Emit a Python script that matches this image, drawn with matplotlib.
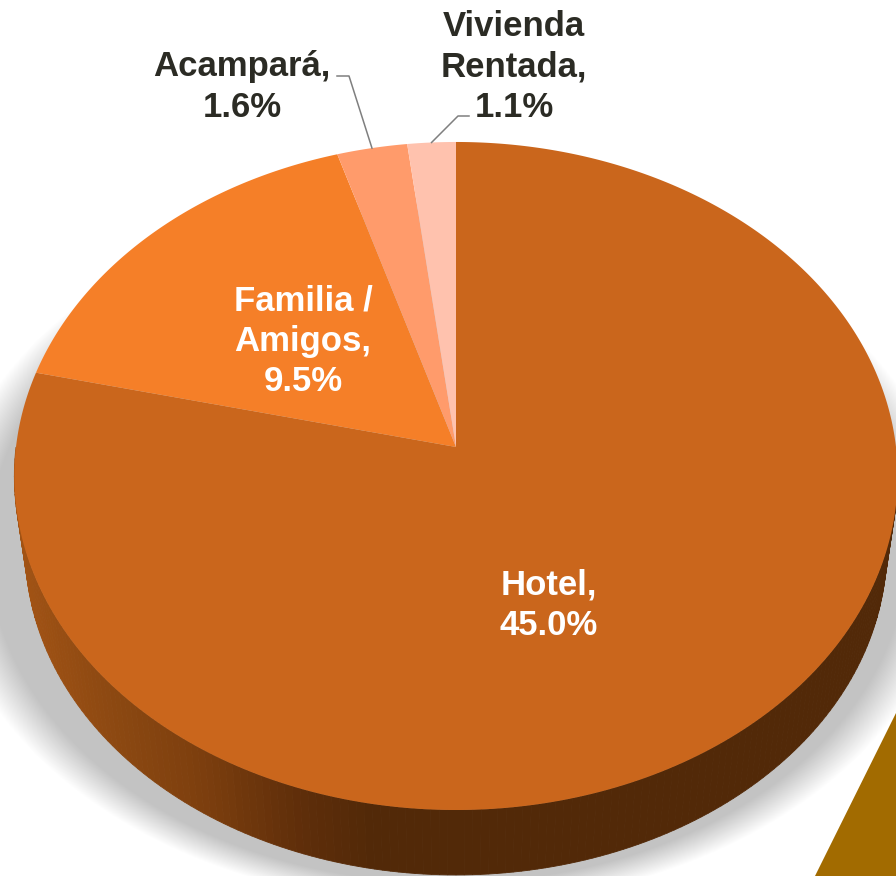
import numpy as np
import matplotlib
matplotlib.use("Agg")
import matplotlib.pyplot as plt

categories = ["Hotel", "Familia /\nAmigos", "Acampará", "Vivienda\nRentada"]
values = [45.0, 9.5, 1.6, 1.1]
colors = ["#ca661c", "#f57f28", "#ff9b6b", "#ffc2ae"]
text_colors = ["white", "white", "#2b2b24", "#2b2b24"]
label_pos = [(549, 605), (303, 341), (242, 87), (514, 67)]
# elbow of the leader lines, only the two small slices have one
leader_pts = [None, None, [(337, 76), (349, 76)], [(469, 116), (458, 116)]]

side_x = [0, 30, 100, 200, 300, 370, 896]
side_rgb = ["#a55515", "#a05214", "#8f4a12", "#7d3f0e", "#5f2e0a", "#522908", "#522908"]

W, H = 896, 876
CX, CY = 456, 447
K = 0.0868  # perspective of the tilted disc


def project(t, scale=1.0, cy=CY):
    # t is clockwise from 12 o'clock
    x, y = np.sin(t), np.cos(t)
    d = 1 + K * y
    return CX + scale * 440 * x / d, cy - scale * 331.5 * y / d


def hex_rgb(c):
    return np.array(matplotlib.colors.to_rgb(c))


fig = plt.figure(figsize=(W / 100, H / 100), dpi=100)
ax = fig.add_axes([0, 0, 1, 1])
ax.set_xlim(0, W)
ax.set_ylim(H, 0)
ax.axis("off")

# soft shadow, stacked translucent ellipses
tt = np.linspace(0, 2 * np.pi, 361)
n = 60
for i in range(n):
    s = 1 - i / (n - 1)
    rx = 460 + 45 * s
    ry = 335 + 23 * s
    ax.fill(448 + rx * np.cos(tt), 548 + ry * np.sin(tt), color="black", lw=0,
            alpha=1 - (1 - 0.22) ** (1 / n), zorder=1)

# gold corner of the next shape on the slide
ax.fill([896, 815, 896], [713, 876, 876], color="#a26b00", lw=0, zorder=2)

# side wall, only the front part shows
strips = np.radians(np.arange(90, 271))
rgb = np.array([hex_rgb(c) for c in side_rgb])
for a, b in zip(strips[:-1], strips[1:]):
    x0, y0 = project(np.array([a, b]))
    x1, y1 = project(np.array([b, a]), 0.975, 521)
    xm = (x0.mean() + x1.mean()) / 2
    col = [np.interp(xm, side_x, rgb[:, j]) for j in range(3)]
    ax.fill(np.r_[x0, x1], np.r_[y0, y1], color=col, lw=0.6, zorder=3)

# top face
fracs = np.array(values) / sum(values)
edges = np.r_[0, np.cumsum(fracs)] * 2 * np.pi
for a, b, c in zip(edges[:-1], edges[1:], colors):
    t = np.linspace(a, b, max(int((b - a) * 180), 8))
    x, y = project(t)
    ax.fill(np.r_[CX, x], np.r_[CY, y], color=c, lw=0, zorder=4)

# labels and leaders
for i, cat in enumerate(categories):
    ax.text(label_pos[i][0], label_pos[i][1], f"{cat},\n{values[i]:.1f}%",
            ha="center", va="center", color=text_colors[i], fontsize=25,
            fontweight="bold", family="Liberation Sans", linespacing=1.27, zorder=6)
    if leader_pts[i]:
        xe, ye = project((edges[i] + edges[i + 1]) / 2)
        px = [p[0] for p in leader_pts[i]] + [xe]
        py = [p[1] for p in leader_pts[i]] + [ye]
        ax.plot(px, py, color="#7f7f7f", lw=1.1, zorder=5)

fig.savefig("out.png", dpi=100)
